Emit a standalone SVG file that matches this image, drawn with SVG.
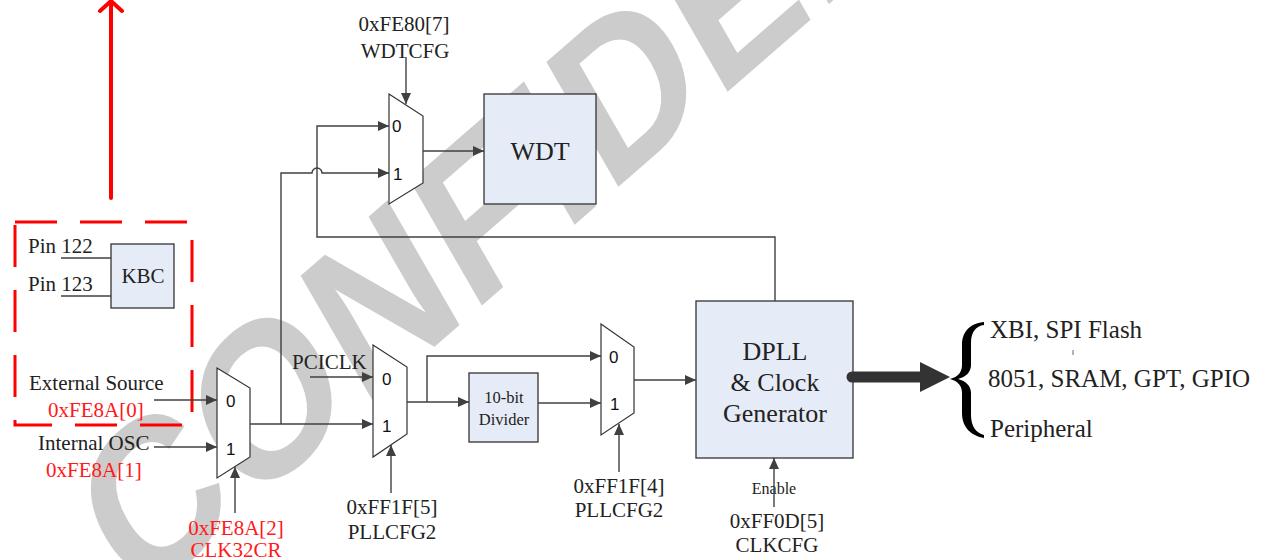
<svg xmlns="http://www.w3.org/2000/svg" width="1266" height="560" viewBox="0 0 1266 560">
<style>
.t{font-size:21px;fill:#222}
.r{fill:#ff1a1a}
.c{text-anchor:middle}
.d{font-size:17px;fill:#111}
.box{fill:#e6ecf7;stroke:#333;stroke-width:1.3}
.mux{fill:#fff;stroke:#333;stroke-width:1.2}
.w{fill:none;stroke:#404040;stroke-width:1.4}
.a{marker-end:url(#ah)}
</style>
<defs>
<marker id="ah" markerUnits="userSpaceOnUse" markerWidth="11" markerHeight="10" refX="11" refY="5" orient="auto">
<path d="M0,0 L11,5 L0,10 z" fill="#404040"/>
</marker>
</defs>
<rect width="1266" height="560" fill="#fff"/>
<g id="watermark">
<text transform="matrix(0.665 -0.578 0.471 0.816 136 606)" font-family="Liberation Sans, Arial, sans-serif" font-weight="bold" font-size="222" letter-spacing="4" fill="#cccccc">CONFIDENTIAL</text>
</g>
<g id="highlight">
<line x1="111" y1="198" x2="111" y2="3" stroke="#ff0000" stroke-width="4" stroke-linecap="round"/>
<polyline points="100,11 111,1 122,11" fill="none" stroke="#ff0000" stroke-width="4" stroke-linecap="round" stroke-linejoin="round"/>
<rect x="15" y="222" width="177" height="203" fill="none" stroke="#ff0000" stroke-width="3" stroke-dasharray="42 23"/>
</g>
<g font-family="Liberation Serif, Times New Roman, DejaVu Serif, serif">
<g id="kbc">
<rect class="box" x="111" y="244" width="63" height="64"/>
<text class="t c" x="143" y="283">KBC</text>
<text class="t" x="28" y="253">Pin 122</text>
<text class="t" x="28" y="291">Pin 123</text>
</g>
<g id="sources">
<text class="t" x="29" y="390">External Source</text>
<text class="t r" x="48" y="417">0xFE8A[0]</text>
<text class="t" x="38" y="450">Internal OSC</text>
<text class="t r" x="46" y="477">0xFE8A[1]</text>
</g>
<g id="mux1">
<polygon class="mux" points="217,368 250,388 250,457 217,478"/>
<text class="d" font-family="Liberation Sans, Arial, sans-serif" x="226" y="407">0</text>
<text class="d" font-family="Liberation Sans, Arial, sans-serif" x="226" y="455">1</text>
<text class="t r c" x="236" y="535">0xFE8A[2]</text>
<text class="t r c" x="236" y="557">CLK32CR</text>
</g>
<g id="mux2">
<polygon class="mux" points="389,94 423,116 423,183 389,204"/>
<text class="d" font-family="Liberation Sans, Arial, sans-serif" x="392" y="132">0</text>
<text class="d" font-family="Liberation Sans, Arial, sans-serif" x="393" y="180">1</text>
<text class="t c" x="404" y="31">0xFE80[7]</text>
<text class="t c" x="405" y="58">WDTCFG</text>
</g>
<g id="wdt">
<rect class="box" x="484" y="94" width="112" height="110"/>
<text class="t c" x="540" y="160" style="font-size:26px">WDT</text>
</g>
<g id="mux3">
<polygon class="mux" points="373,345 407,367 407,434 373,457"/>
<text class="d" font-family="Liberation Sans, Arial, sans-serif" x="382" y="385">0</text>
<text class="d" font-family="Liberation Sans, Arial, sans-serif" x="382" y="432">1</text>
<text class="t" x="292" y="369">PCICLK</text>
<text class="t c" x="392" y="514">0xFF1F[5]</text>
<text class="t c" x="392" y="539">PLLCFG2</text>
</g>
<g id="divider">
<rect class="box" x="469" y="373" width="69" height="69"/>
<text class="t c" x="504" y="403" style="font-size:16.5px">10-bit</text>
<text class="t c" x="504" y="425" style="font-size:16.5px">Divider</text>
</g>
<g id="mux4">
<polygon class="mux" points="601,324 634,347 634,413 601,435"/>
<text class="d" font-family="Liberation Sans, Arial, sans-serif" x="609" y="363">0</text>
<text class="d" font-family="Liberation Sans, Arial, sans-serif" x="610" y="410">1</text>
<text class="t c" x="619" y="493">0xFF1F[4]</text>
<text class="t c" x="619" y="517">PLLCFG2</text>
</g>
<g id="dpll">
<rect class="box" x="696" y="301" width="157" height="157"/>
<text class="t c" x="775" y="360" style="font-size:26px">DPLL</text>
<text class="t c" x="775" y="391" style="font-size:26px">&amp; Clock</text>
<text class="t c" x="775" y="422" style="font-size:26px">Generator</text>
<text class="t c" x="774" y="494" style="font-size:16px">Enable</text>
<text class="t c" x="777" y="528">0xFF0D[5]</text>
<text class="t c" x="777" y="552">CLKCFG</text>
</g>
<g id="outputs">
<path d="M984,322 C972,323 962,330 962,345 L962,365 C962,372 958,377 950,379 C958,381 962,386 962,393 L962,413 C962,428 972,436 984,438 L984,435 C976,433 971,426 971,415 L971,393 C971,386 966,381 958,379 C966,377 971,372 971,365 L971,343 C971,332 976,326 984,325 Z" fill="#000"/>
<text class="t" x="990" y="338" style="font-size:25px">XBI, SPI Flash</text>
<text class="t" x="988" y="387" style="font-size:25px">8051, SRAM, GPT, GPIO</text>
<text class="t" x="990" y="437" style="font-size:25px">Peripheral</text>
<line x1="1073" y1="350" x2="1073" y2="355" stroke="#666" stroke-width="1"/>
</g>
</g>
<g id="connectors">
<line class="w" x1="61" y1="258" x2="111" y2="258"/>
<line class="w" x1="61" y1="296" x2="111" y2="296"/>
<line class="w a" x1="154" y1="400" x2="217" y2="400"/>
<line class="w a" x1="154" y1="447" x2="217" y2="447"/>
<line class="w a" x1="235" y1="513" x2="235" y2="467"/>
<path class="w a" d="M250,424 H373"/>
<path class="w a" d="M281,424 V173 H312 A5,5 0 0 1 322,173 H389"/>
<path class="w a" d="M775,301 V237 H317 V126 H389"/>
<line class="w a" x1="406" y1="57" x2="406" y2="104"/>
<line class="w a" x1="423" y1="151" x2="484" y2="151"/>
<line class="w a" x1="310" y1="377" x2="373" y2="377"/>
<line class="w a" x1="391" y1="493" x2="391" y2="445"/>
<line class="w a" x1="407" y1="402" x2="469" y2="402"/>
<path class="w a" d="M427,402 V356 H601"/>
<line class="w a" x1="538" y1="403" x2="601" y2="403"/>
<line class="w a" x1="619" y1="472" x2="619" y2="424"/>
<line class="w a" x1="634" y1="380" x2="696" y2="380"/>
<line class="w a" x1="774" y1="507" x2="774" y2="458"/>
<line x1="852" y1="377" x2="924" y2="377" stroke="#333" stroke-width="11" stroke-linecap="round"/>
<polygon points="920,362 950,377 920,392" fill="#333"/>
</g>
</svg>
